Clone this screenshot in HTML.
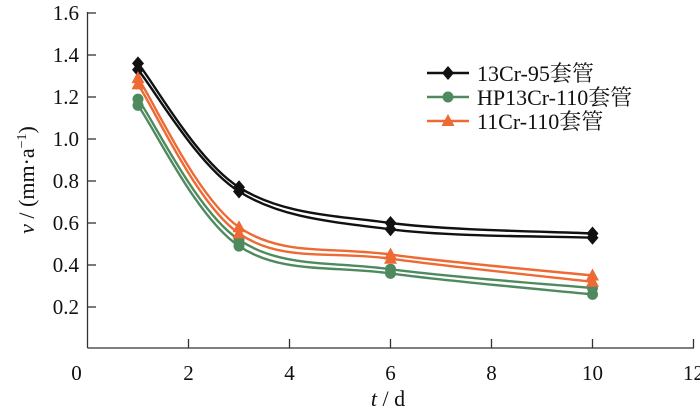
<!DOCTYPE html>
<html><head><meta charset="utf-8"><style>
body{margin:0;background:#fff}
text{font-family:"Liberation Serif","Noto Serif CJK SC",serif;fill:#111}
</style></head><body>
<svg width="700" height="413" xmlns="http://www.w3.org/2000/svg">
<g id="axes"></g>
<g id="series"></g>
<g id="legend"></g>
<text x="388" y="406" font-size="22" text-anchor="middle"><tspan font-style="italic">t</tspan> / d</text>
<text transform="translate(34,180) rotate(-90)" font-size="22" text-anchor="middle"><tspan font-style="italic">v</tspan> / (mm·a<tspan dy="-8" font-size="14">−1</tspan><tspan dy="8">)</tspan></text>
</svg>
<script>
const xs=[1,3,6,10];
const names=["13Cr-95套管","HP13Cr-110套管","11Cr-110套管"];
const colors=["#111111","#4f8a5f","#ee6a35"];
const markers=["diamond","circle","triangle"];
const blackHi=[1.36,0.77,0.60,0.55], blackLo=[1.33,0.75,0.57,0.53];
const greenHi=[1.19,0.52,0.38,0.29], greenLo=[1.16,0.49,0.36,0.26];
const orangeHi=[1.29,0.58,0.45,0.35], orangeLo=[1.26,0.55,0.43,0.32];
const xTicks=[0,2,4,6,8,10,12];
const yTicks=[0.2,0.4,0.6,0.8,1.0,1.2,1.4,1.6];
const NS="http://www.w3.org/2000/svg";
const X=v=>87.5+v*50.5, Y=v=>349-v*210;
function el(t,a,p){const e=document.createElementNS(NS,t);for(const k in a)e.setAttribute(k,a[k]);p.appendChild(e);return e;}
const ax=document.getElementById('axes');
let l=el('line',{x1:87.5,y1:12,x2:87.5,y2:348,stroke:'#333','stroke-width':1.3},ax);


l=el('line',{x1:87.5,y1:348,x2:694,y2:348,stroke:'#333','stroke-width':1.3},ax);


xTicks.forEach(t=>{
 if(t>0){const k=el('line',{x1:X(t),y1:348,x2:X(t),y2:339,stroke:'#333','stroke-width':1.3},ax);
 
 }
 const tx=el('text',{x:X(t)-(t==0?11:0),y:380,'font-size':21,'text-anchor':'middle'},ax);tx.textContent=t;
 
 
});
yTicks.forEach(t=>{
 const k=el('line',{x1:87.5,y1:Y(t),x2:96,y2:Y(t),stroke:'#333','stroke-width':1.3},ax);
 
 
 const tx=el('text',{x:79,y:Y(t)+7,'font-size':21,'text-anchor':'end'},ax);tx.textContent=t.toFixed(1);
 
 
});
function path(vals){const p=xs.map((x,i)=>[X(x),Y(vals[i])]);let d=`M${p[0][0]},${p[0][1]}`;
 for(let i=0;i<p.length-1;i++){const p0=p[i-1]||p[i],p1=p[i],p2=p[i+1],p3=p[i+2]||p2;
 const c1=[p1[0]+(p2[0]-p0[0])/6,p1[1]+(p2[1]-p0[1])/6],c2=[p2[0]-(p3[0]-p1[0])/6,p2[1]-(p3[1]-p1[1])/6];
 d+=` C${c1[0]},${c1[1]} ${c2[0]},${c2[1]} ${p2[0]},${p2[1]}`;}return d;}
function marker(type,x,y,c,g){let m;
 if(type=='diamond')m=el('polygon',{points:`${x},${y-7} ${x+6},${y} ${x},${y+7} ${x-6},${y}`,fill:c},g);
 else if(type=='circle')m=el('circle',{cx:x,cy:y,r:5.5,fill:c},g);
 else m=el('polygon',{points:`${x},${y-7} ${x+6.5},${y+5} ${x-6.5},${y+5}`,fill:c},g);
 return m;}
const sg=document.getElementById('series');
const sets=[[blackHi,blackLo],[greenHi,greenLo],[orangeHi,orangeLo]];
sets.forEach((pair,s)=>{
 const g=el('g',{},sg);
 
 
 pair.forEach(vals=>{
  const p=el('path',{d:path(vals),fill:'none',stroke:colors[s],'stroke-width':2.4},g);
  
  
 });
 pair.forEach(vals=>xs.forEach((x,i)=>{
  const m=marker(markers[s],X(x),Y(vals[i]),colors[s],g);
  
  
 }));
});
const lg=document.getElementById('legend');
names.forEach((n,i)=>{
 const y=73+i*24;
 const g=el('g',{},lg);
 
 
 el('line',{x1:427,y1:y,x2:469,y2:y,stroke:colors[i],'stroke-width':2.6},g);
 marker(markers[i],448,y,colors[i],g);
 const t=el('text',{x:477,y:y+8,'font-size':22},g);t.textContent=n;
});
</script>
</body></html>
